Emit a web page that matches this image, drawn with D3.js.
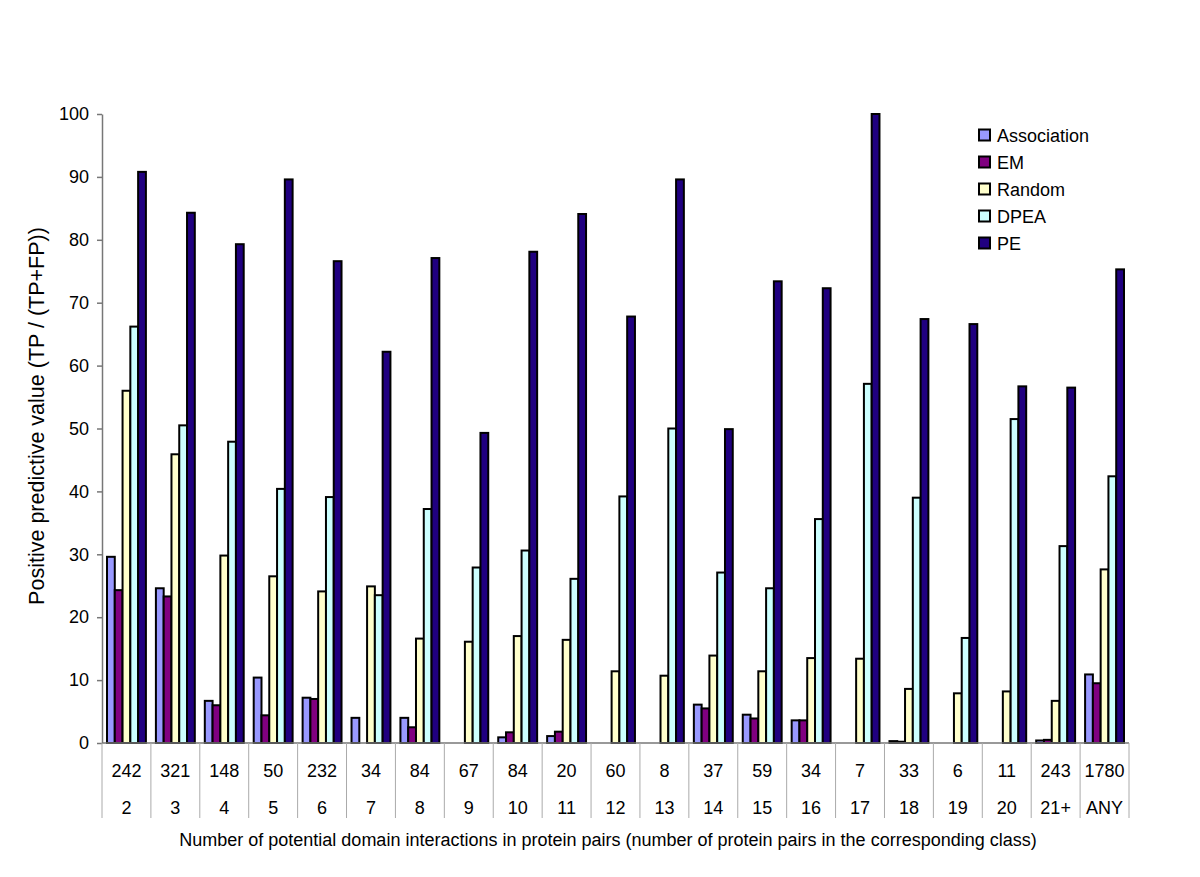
<!DOCTYPE html>
<html>
<head>
<meta charset="utf-8">
<script src="https://cdn.jsdelivr.net/npm/d3@7"></script>
<style>
  html, body { margin: 0; padding: 0; background: #fff; }
  svg { display: block; font-family: "Liberation Sans", Arial, Helvetica, sans-serif; }
</style>
</head>
<body>
<svg id="chart" width="1200" height="877"></svg>
<script>
// ---- data ----
const categories = ["2","3","4","5","6","7","8","9","10","11","12","13","14","15","16","17","18","19","20","21+","ANY"];
const pairCounts = ["242","321","148","50","232","34","84","67","84","20","60","8","37","59","34","7","33","6","11","243","1780"];
const seriesNames = ["Association","EM","Random","DPEA","PE"];
const association = [29.6, 24.6, 6.7, 10.4, 7.2, 4.0, 4.0, 0, 0.9, 1.1, 0, 0, 6.1, 4.5, 3.6, 0, 0.3, 0, 0, 0.4, 10.9];
const em          = [24.3, 23.3, 6.0, 4.4, 7.0, 0, 2.5, 0, 1.7, 1.8, 0, 0, 5.5, 3.9, 3.6, 0, 0.2, 0, 0, 0.5, 9.5];
const random      = [56.0, 45.9, 29.8, 26.5, 24.1, 24.9, 16.6, 16.1, 17.0, 16.4, 11.4, 10.7, 13.9, 11.4, 13.5, 13.4, 8.6, 7.9, 8.2, 6.7, 27.6];
const dpea        = [66.2, 50.5, 47.9, 40.4, 39.1, 23.5, 37.2, 27.9, 30.6, 26.1, 39.2, 50.0, 27.1, 24.6, 35.6, 57.1, 39.0, 16.7, 51.5, 31.3, 42.4];
const pe          = [90.8, 84.3, 79.3, 89.6, 76.6, 62.2, 77.1, 49.3, 78.1, 84.1, 67.8, 89.6, 49.9, 73.4, 72.3, 100.0, 67.4, 66.6, 56.7, 56.5, 75.3];
const yTicks = [0,10,20,30,40,50,60,70,80,90,100];
const seriesColors = ["#9999ff","#800080","#ffffcc","#ccffff","#200080"];
const yTitle = "Positive predictive value (TP / (TP+FP))";
const xTitle = "Number of potential domain interactions in protein pairs (number of protein pairs in the corresponding class)";

const seriesValues = [association, em, random, dpea, pe];

// ---- layout ----
const svg = d3.select("#chart");
const mLeft = 102, mRight = 1129, mTop = 114, mBottom = 743;

const x = d3.scaleBand().domain(categories).range([mLeft, mRight]).paddingInner(0).paddingOuter(0);
const bw = x.bandwidth();
const xs = d3.scaleBand().domain(seriesNames).range([5, bw - 5]).padding(0);
const y = d3.scaleLinear().domain([0, 100]).range([mBottom, mTop]);
const color = d3.scaleOrdinal().domain(seriesNames).range(seriesColors);

// bars
const rows = [];
categories.forEach((c, i) => {
  seriesNames.forEach((s, j) => {
    rows.push({cat: c, series: s, value: seriesValues[j][i]});
  });
});

svg.append("g").selectAll("rect")
  .data(rows.filter(d => d.value > 0))
  .join("rect")
  .attr("x", d => x(d.cat) + xs(d.series))
  .attr("y", d => y(d.value))
  .attr("width", xs.bandwidth())
  .attr("height", d => y(0) - y(d.value))
  .attr("fill", d => color(d.series))
  .attr("stroke", "#000")
  .attr("stroke-width", 2);

// y axis
const yAxis = d3.axisLeft(y).tickValues(yTicks).tickSize(5).tickPadding(8).tickSizeOuter(0);
const gy = svg.append("g").attr("transform", `translate(${mLeft},0)`).call(yAxis);
gy.select(".domain").attr("stroke", "#777").attr("stroke-width", 1.5);
gy.selectAll(".tick line").attr("stroke", "#777").attr("stroke-width", 1.5);
gy.selectAll(".tick text").attr("font-size", 18).attr("fill", "#000")
  .attr("font-family", "'Liberation Sans', Arial, sans-serif");

// x axis baseline
svg.append("line")
  .attr("x1", mLeft).attr("x2", mRight)
  .attr("y1", y(0)).attr("y2", y(0))
  .attr("stroke", "#777").attr("stroke-width", 1.5);

// table separators
const bounds = categories.map(c => x(c)).concat([mRight]);
svg.append("g").selectAll("line")
  .data(bounds)
  .join("line")
  .attr("x1", d => d).attr("x2", d => d)
  .attr("y1", y(0)).attr("y2", 818)
  .attr("stroke", "#aaa").attr("stroke-width", 1);

// table labels
const tg = svg.append("g").attr("font-size", 18).attr("text-anchor", "middle").attr("fill", "#000");
tg.selectAll("text.count")
  .data(categories)
  .join("text")
  .attr("class", "count")
  .attr("x", d => x(d) + bw / 2)
  .attr("y", 777)
  .text((d, i) => pairCounts[i]);
tg.selectAll("text.cat")
  .data(categories)
  .join("text")
  .attr("class", "cat")
  .attr("x", d => x(d) + bw / 2)
  .attr("y", 814)
  .text(d => d);

// axis titles
svg.append("text")
  .attr("x", 608)
  .attr("y", 846)
  .attr("text-anchor", "middle")
  .attr("font-size", 18)
  .text(xTitle);

svg.append("text")
  .attr("transform", `translate(44,416) rotate(-90)`)
  .attr("text-anchor", "middle")
  .attr("font-size", 21.5)
  .text(yTitle);

// legend
const lg = svg.append("g").attr("transform", "translate(979,135)");
const li = lg.selectAll("g")
  .data(seriesNames)
  .join("g")
  .attr("transform", (d, i) => `translate(0,${i * 27})`);
li.append("rect")
  .attr("x", 0).attr("y", -5.5)
  .attr("width", 11).attr("height", 11)
  .attr("fill", d => color(d))
  .attr("stroke", "#000").attr("stroke-width", 2);
li.append("text")
  .attr("x", 18).attr("y", 6.5)
  .attr("font-size", 18)
  .text(d => d);
</script>
</body>
</html>
